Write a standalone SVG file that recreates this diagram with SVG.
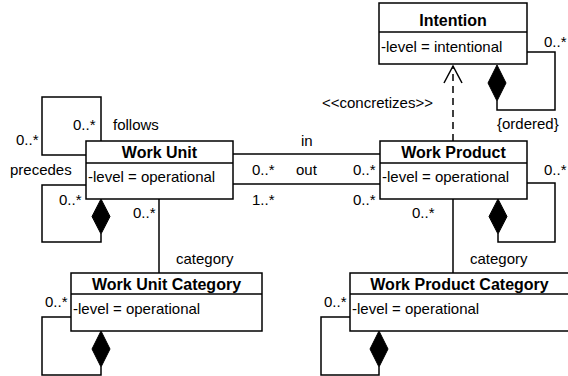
<svg xmlns="http://www.w3.org/2000/svg" width="568" height="376" viewBox="0 0 568 376">
<style>
.box{fill:#fff;stroke:#000;stroke-width:1.5}
.ln{fill:none;stroke:#000;stroke-width:1.5}
.dia{fill:#000;stroke:#000;stroke-width:1}
.h{font-family:"Liberation Sans",Arial,sans-serif;font-size:16px;font-weight:bold;text-anchor:middle;fill:#000}
.t{font-family:"Liberation Sans",Arial,sans-serif;font-size:15px;fill:#000}
</style>
<rect width="568" height="376" fill="#fff"/>
<g id="connectors">
  <!-- Intention self loop -->
  <path class="ln" d="M527,52 H555 V110 H497 V101"/>
  <polygon class="dia" points="497,65 506,83 497,101 488,83"/>
  <!-- concretizes -->
  <path class="ln" d="M453,141 V66" stroke-dasharray="7 5"/>
  <path class="ln" d="M444,83 L453,66 L462,83"/>
  <!-- Work Unit follows loop -->
  <path class="ln" d="M86,155 H42 V97 H101 V141"/>
  <!-- Work Unit aggregation loop -->
  <path class="ln" d="M86,185 H42 V242 H101 V234"/>
  <polygon class="dia" points="101,199 110,216.5 101,234 92,216.5"/>
  <!-- in/out -->
  <path class="ln" d="M233,154 H380"/>
  <path class="ln" d="M233,184 H380"/>
  <!-- Work Product loop -->
  <path class="ln" d="M527,183 H555 V242 H498 V234"/>
  <polygon class="dia" points="498,199 507,216.5 498,234 489,216.5"/>
  <!-- category lines -->
  <path class="ln" d="M159,199 V273"/>
  <path class="ln" d="M453,199 V273"/>
  <!-- WUC loop -->
  <path class="ln" d="M71,317 H42 V375 H101 V367"/>
  <polygon class="dia" points="101,331 110,349 101,367 92,349"/>
  <!-- WPC loop -->
  <path class="ln" d="M350,317 H321 V375 H379 V367"/>
  <polygon class="dia" points="379,331 388,349 379,367 370,349"/>
  <!-- labels -->
  <text class="t" x="544" y="47">0..*</text>
  <text class="t" x="497" y="129">{ordered}</text>
  <text class="t" x="322" y="108">&lt;&lt;concretizes&gt;&gt;</text>
  <text class="t" x="301" y="146">in</text>
  <text class="t" x="252" y="175">0..*</text>
  <text class="t" x="296" y="175">out</text>
  <text class="t" x="353" y="175">0..*</text>
  <text class="t" x="252" y="205">1..*</text>
  <text class="t" x="353" y="205">0..*</text>
  <text class="t" x="16" y="145">0..*</text>
  <text class="t" x="73" y="130">0..*</text>
  <text class="t" x="113" y="130">follows</text>
  <text class="t" x="10" y="175">precedes</text>
  <text class="t" x="59" y="205">0..*</text>
  <text class="t" x="133" y="218">0..*</text>
  <text class="t" x="176" y="264">category</text>
  <text class="t" x="45" y="307">0..*</text>
  <text class="t" x="544" y="175">0..*</text>
  <text class="t" x="412" y="218">0..*</text>
  <text class="t" x="470" y="264">category</text>
  <text class="t" x="324" y="307">0..*</text>
</g>
<g id="intention">
  <rect class="box" x="379" y="3" width="148" height="61"/>
  <path class="ln" d="M379,32 H527"/>
  <text class="h" x="453" y="26">Intention</text>
  <text class="t" x="381" y="52">-level = intentional</text>
</g>
<g id="work-unit">
  <rect class="box" x="86" y="141" width="147" height="58"/>
  <path class="ln" d="M86,163 H233"/>
  <text class="h" x="159.5" y="158">Work Unit</text>
  <text class="t" x="88" y="182">-level = operational</text>
</g>
<g id="work-product">
  <rect class="box" x="380" y="141" width="147" height="58"/>
  <path class="ln" d="M380,163 H527"/>
  <text class="h" x="453.5" y="158">Work Product</text>
  <text class="t" x="382" y="182">-level = operational</text>
</g>
<g id="work-unit-category">
  <rect class="box" x="71" y="273" width="191" height="58"/>
  <path class="ln" d="M71,294 H262"/>
  <text class="h" x="166.5" y="290">Work Unit Category</text>
  <text class="t" x="73" y="314">-level = operational</text>
</g>
<g id="work-product-category">
  <rect class="box" x="350" y="273" width="220" height="58"/>
  <path class="ln" d="M350,294 H570"/>
  <text class="h" x="459.5" y="290">Work Product Category</text>
  <text class="t" x="352" y="314">-level = operational</text>
</g>
</svg>
